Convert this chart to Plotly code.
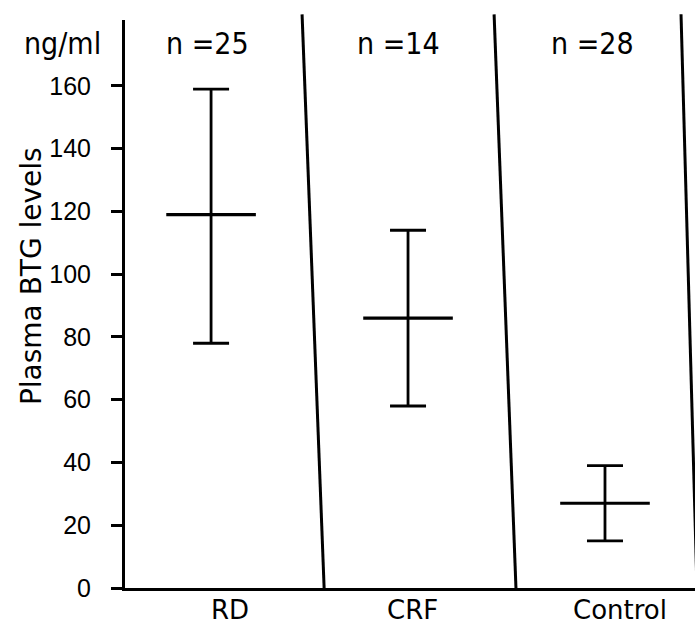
import plotly.graph_objects as go

categories = ["RD", "CRF", "Control"]
n_labels = ["n =25", "n =14", "n =28"]
means = [119, 86, 27]
upper = [159, 114, 39]
lower = [78, 58, 15]
y_ticks = [0, 20, 40, 60, 80, 100, 120, 140, 160]

xs = list(range(len(categories)))
err_plus = [u - m for u, m in zip(upper, means)]
err_minus = [m - l for m, l in zip(means, lower)]

FONT = "Liberation Sans Narrow, DejaVu Sans Condensed, Arial Narrow, sans-serif"
TICKFONT = "Liberation Sans, Arial, sans-serif"

fig = go.Figure()
fig.add_trace(go.Scatter(
    x=xs, y=means, mode="markers",
    marker=dict(symbol="line-ew", size=64, line=dict(width=3.2, color="black"), color="black"),
    error_y=dict(type="data", symmetric=False, array=err_plus, arrayminus=err_minus,
                 color="black", thickness=2.8, width=18),
    showlegend=False, hoverinfo="skip",
))

# category labels
label_shift = [19, 4, 15]
for i, c in enumerate(categories):
    fig.add_annotation(x=i, y=0, yref="y", xref="x", text=c, showarrow=False,
                       yanchor="top", yshift=-5, xshift=label_shift[i],
                       font=dict(family="DejaVu Sans, sans-serif", size=26, color="black"))

# n labels
n_shift = [-4, -10, -12]
for i, t in enumerate(n_labels):
    fig.add_annotation(x=i, y=1.0, yref="paper", xref="x", text=t, showarrow=False,
                       yanchor="top", yshift=-4, xshift=n_shift[i],
                       font=dict(family=FONT, size=30, color="black"))

fig.add_annotation(x=-0.038, xref="paper", y=1.0, yref="paper", text="ng/ml",
                   showarrow=False, xanchor="right", yanchor="top", yshift=-4,
                   font=dict(family=FONT, size=30, color="black"))

# y title as rotated annotation
fig.add_annotation(x=-0.165, xref="paper", y=0.549, yref="paper", text="Plasma BTG levels",
                   showarrow=False, textangle=-90, xanchor="center", yanchor="middle",
                   font=dict(family="DejaVu Sans, sans-serif", size=28, color="black"))

# divider lines between groups (slightly slanted as in the scan)
dividers = [(0.462, 0.574), (1.437, 1.548), (2.386, 2.467)]
for top, bot in dividers:
    fig.add_shape(type="line", xref="x", yref="paper", x0=top, y0=1.01, x1=bot, y1=0,
                  line=dict(color="black", width=3))

fig.update_layout(
    width=695, height=624,
    margin=dict(l=125, r=0, t=20, b=36),
    paper_bgcolor="white", plot_bgcolor="white",
    xaxis=dict(range=[-0.437, 2.457], showticklabels=False, ticks="",
               showline=True, linecolor="black", linewidth=3, showgrid=False, zeroline=False),
    yaxis=dict(range=[0, 181], tickvals=y_ticks, ticks="outside", ticklen=11, tickwidth=3,
               tickcolor="black", showline=True, linecolor="black", linewidth=3,
               showgrid=False, zeroline=False, ticklabelstandoff=15,
               tickfont=dict(family=TICKFONT, size=25, color="black")),
)

fig.write_html("out.html")
